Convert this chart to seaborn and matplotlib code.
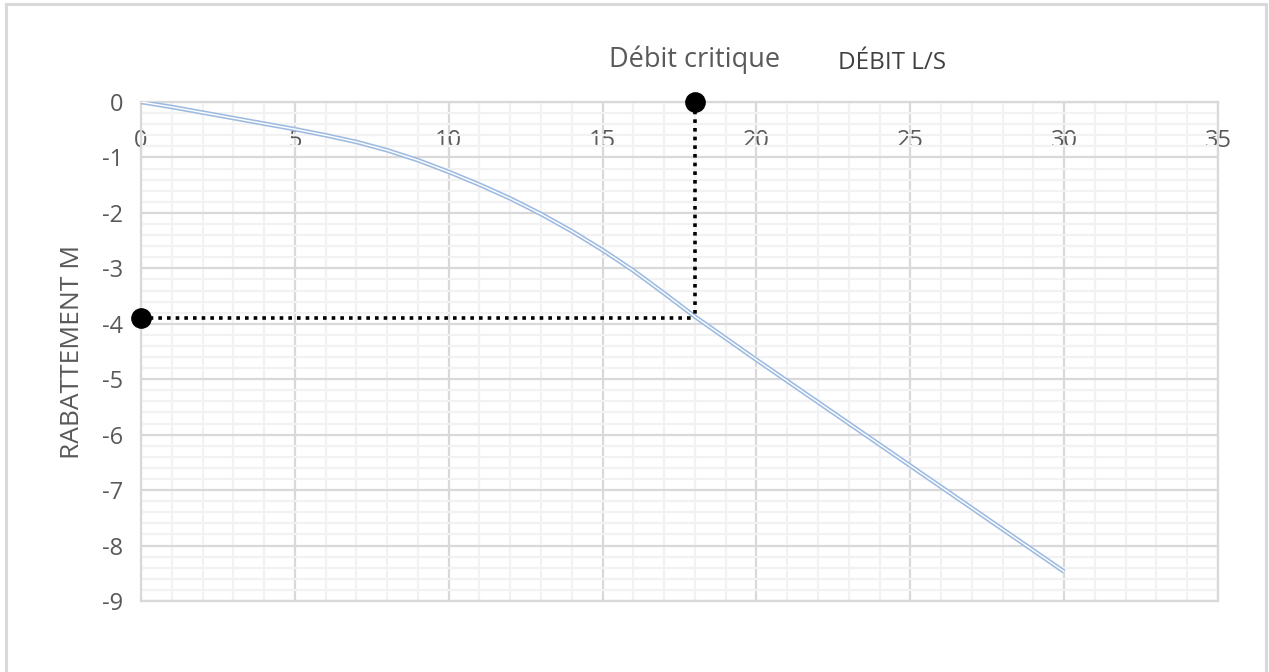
import matplotlib
matplotlib.use("Agg")
import matplotlib.pyplot as plt
from matplotlib.patches import Rectangle
from matplotlib.ticker import MultipleLocator
import seaborn as sns
import pandas as pd

# Valeurs
debit = [0, 1, 2, 3, 4, 5, 6, 7, 8, 9, 10, 11, 12, 13, 14, 15, 16, 17, 18, 19, 20, 25, 30]
rabattement = [0, -0.09, -0.19, -0.29, -0.39, -0.49, -0.60, -0.72, -0.87, -1.05, -1.26,
               -1.49, -1.74, -2.02, -2.33, -2.67, -3.04, -3.45, -3.87, -4.26, -4.65,
               -6.56, -8.47]

debit_critique = 18
rabattement_critique = -3.9

x_ticks = [0, 5, 10, 15, 20, 25, 30, 35]
y_ticks = [0, -1, -2, -3, -4, -5, -6, -7, -8, -9]

df = pd.DataFrame({"debit": debit, "rabattement": rabattement})
points = pd.DataFrame({"debit": [debit_critique, 0], "rabattement": [0, rabattement_critique]})

sns.set_style("white")
plt.rcParams["font.family"] = ["Open Sans", "DejaVu Sans"]
plt.rcParams["axes.unicode_minus"] = False

gris_texte = "#595959"
gris_major = "#D9D9D9"
gris_minor = "#F2F2F2"

fig = plt.figure(figsize=(12.69, 6.72), dpi=100)
ax = fig.add_axes([141 / 1269, 1 - 601 / 672, (1218 - 141) / 1269, (601 - 102) / 672])

# Courbe en double trait (bleu clair avec un filet blanc)
sns.lineplot(data=df, x="debit", y="rabattement", ax=ax, color="#9DBBE0",
             linewidth=3.3, zorder=3, solid_capstyle="butt", solid_joinstyle="round")
sns.lineplot(data=df, x="debit", y="rabattement", ax=ax, color="white",
             linewidth=1.0, zorder=4, solid_capstyle="butt", solid_joinstyle="round")

# Lignes pointillées du débit critique
ax.plot([debit_critique, debit_critique], [0, rabattement_critique], color="black",
        linewidth=2.6, linestyle=(0, (1, 1.4)), dash_capstyle="butt", zorder=5)
ax.plot([0, debit_critique], [rabattement_critique, rabattement_critique], color="black",
        linewidth=2.6, linestyle=(0, (1, 1.4)), dash_capstyle="butt", zorder=5)

sns.scatterplot(data=points, x="debit", y="rabattement", ax=ax, color="black",
                s=190, edgecolor="black", zorder=6, clip_on=False)

ax.text(debit_critique, 0.5, "Débit critique", ha="center", va="bottom",
        fontsize=19.5, color=gris_texte)

ax.set_xlim(0, 35)
ax.set_ylim(-9, 0)
ax.set_xticks(x_ticks)
ax.set_yticks(y_ticks)
ax.set_yticklabels([str(v) for v in y_ticks])
ax.xaxis.set_minor_locator(MultipleLocator(1))
ax.yaxis.set_minor_locator(MultipleLocator(0.2))

ax.grid(which="major", color=gris_major, linewidth=1.6, zorder=1)
ax.grid(which="minor", color=gris_minor, linewidth=1.6, zorder=0)
ax.set_axisbelow(True)

ax.xaxis.set_ticks_position("top")
ax.tick_params(axis="x", which="both", length=0, labeltop=True, labelbottom=False,
               pad=-37, labelsize=17, labelcolor=gris_texte)
ax.tick_params(axis="y", which="both", length=0, pad=13, labelsize=17, labelcolor=gris_texte)

for spine in ax.spines.values():
    spine.set_color(gris_major)
    spine.set_linewidth(1.6)

ax.set_xlabel("")
ax.set_ylabel("RABATTEMENT M", fontsize=19, color=gris_texte, labelpad=12)
fig.text(892 / 1269, 1 - 63 / 672, "DÉBIT L/S", ha="center", va="center",
         fontsize=17.5, color="#404040")

# Cadre du graphique
fig.patches.append(Rectangle((6 / 1269, -0.05), (1266 - 6) / 1269, 1.05 - 4 / 672,
                             transform=fig.transFigure, fill=False,
                             edgecolor=gris_major, linewidth=2.2, zorder=0))

fig.savefig("out.png", dpi=100)
